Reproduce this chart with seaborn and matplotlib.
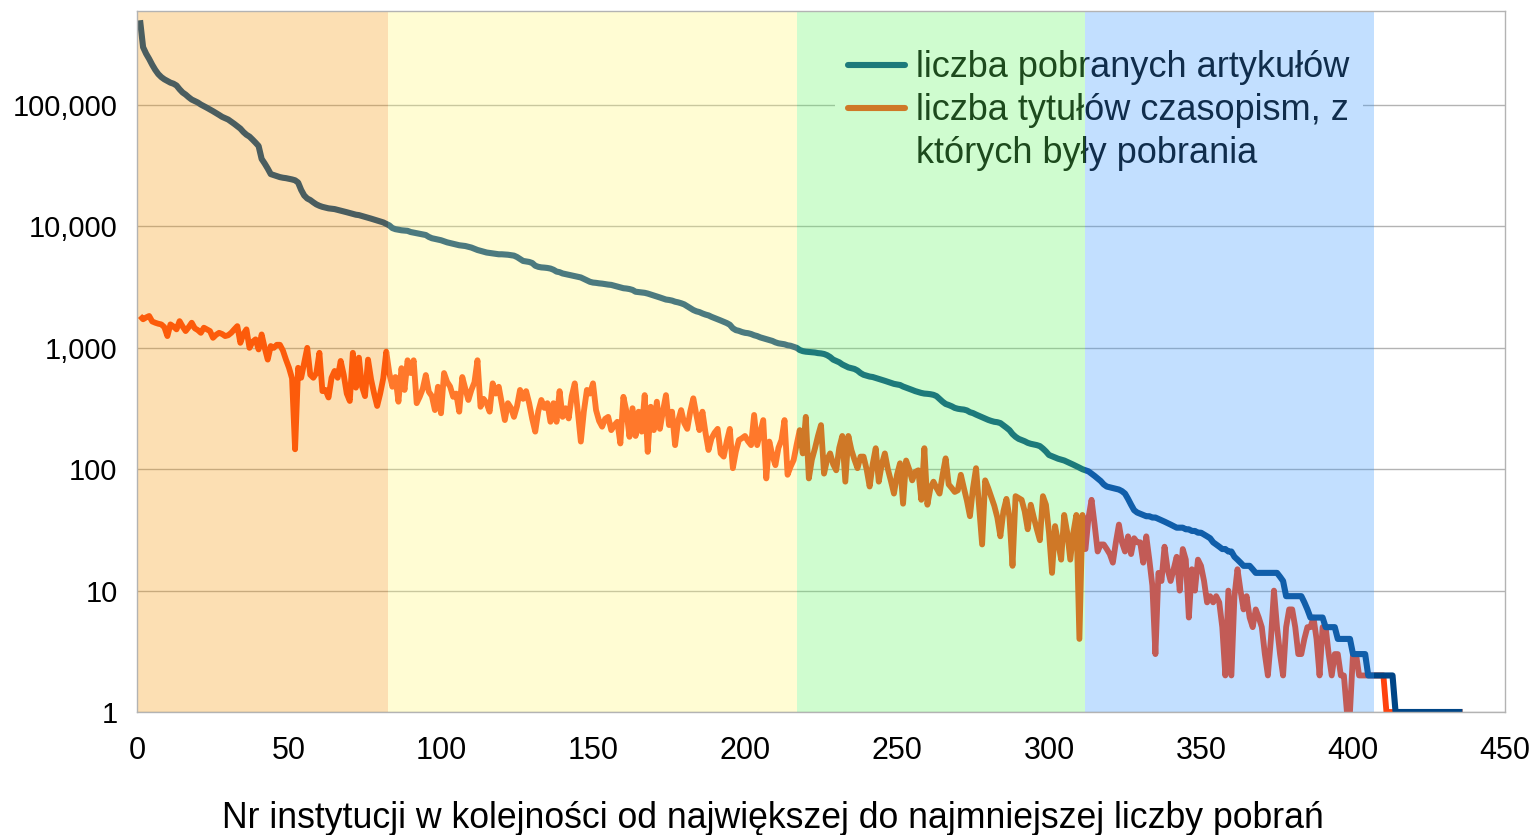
import matplotlib
matplotlib.use("Agg")
import matplotlib.pyplot as plt
from matplotlib.lines import Line2D
from matplotlib.ticker import NullLocator
import seaborn as sns

# liczba pobranych artykułów, instytucje 1..436 (odczyt z wykresu)
downloads = [
    500000, 300000, 265000, 240000, 215000, 195000, 180000, 170000, 163000, 158000,
    153000, 150000, 145000, 135000, 127000, 122000, 116000, 111000, 108000, 105000,
    101000, 98000, 95000, 92000, 89000, 86000, 83000, 80000, 78000, 76000,
    73000, 70000, 67000, 64000, 60000, 57000, 55000, 52000, 49000, 46000,
    36000, 33000, 30000, 27000, 26500, 26000, 25500, 25200, 25000, 24700,
    24400, 24000, 23000, 20000, 18000, 17000, 16500, 15800, 15200, 14800,
    14500, 14300, 14100, 14000, 13900, 13700, 13500, 13300, 13100, 12900,
    12700, 12500, 12400, 12200, 12000, 11800, 11600, 11400, 11200, 11000,
    10800, 10500, 10200, 9700, 9500, 9400, 9300, 9250, 9200, 9000,
    8900, 8800, 8700, 8600, 8500, 8200, 8000, 7900, 7800, 7700,
    7550, 7400, 7300, 7200, 7100, 7000, 6950, 6900, 6800, 6700,
    6550, 6400, 6300, 6200, 6100, 6050, 6000, 5950, 5900, 5900,
    5880, 5850, 5800, 5750, 5600, 5400, 5200, 5150, 5100, 5000,
    4750, 4650, 4600, 4580, 4550, 4500, 4400, 4250, 4200, 4100,
    4050, 4000, 3950, 3900, 3850, 3800, 3700, 3600, 3500, 3450,
    3430, 3400, 3380, 3350, 3320, 3300, 3250, 3200, 3150, 3100,
    3080, 3050, 3000, 2900, 2880, 2860, 2840, 2800, 2750, 2700,
    2650, 2600, 2550, 2500, 2480, 2450, 2400, 2370, 2330, 2280,
    2200, 2120, 2050, 2000, 1970, 1920, 1880, 1850, 1800, 1760,
    1720, 1680, 1640, 1600, 1550, 1450, 1400, 1380, 1350, 1330,
    1320, 1300, 1270, 1250, 1220, 1200, 1180, 1160, 1140, 1110,
    1090, 1080, 1070, 1050, 1040, 1020, 1000, 960, 940, 930,
    925, 920, 915, 905, 900, 890, 870, 840, 800, 780,
    760, 730, 710, 690, 680, 670, 650, 620, 600, 590,
    580, 575, 565, 555, 545, 535, 525, 515, 505, 500,
    494, 480, 470, 460, 450, 440, 432, 425, 420, 418,
    415, 410, 400, 380, 360, 345, 338, 330, 320, 315,
    312, 310, 305, 295, 290, 282, 275, 268, 262, 255,
    250, 246, 244, 240, 230, 220, 210, 195, 185, 178,
    174, 170, 165, 162, 160, 158, 155, 148, 140, 131,
    128, 125, 122, 120, 118, 115, 112, 109, 106, 103,
    100, 98, 96, 92, 88, 84, 80, 75, 72, 71,
    70, 69, 68, 66, 63, 57, 51, 46, 44, 43,
    42, 41, 41, 40, 40, 39, 38, 37, 36, 35,
    34, 33, 33, 33, 32, 32, 31, 31, 30, 30,
    29, 28, 27, 25, 24, 23, 22, 22, 21, 21,
    19, 18, 17, 16, 16, 16, 15, 14, 14, 14,
    14, 14, 14, 14, 14, 13, 12, 9, 9, 9,
    9, 9, 9, 8, 7, 6, 6, 6, 6, 6,
    5, 5, 5, 5, 4, 4, 4, 4, 4, 3,
    3, 3, 3, 3, 2, 2, 2, 2, 2, 2,
    2, 2, 2, 1, 1, 1, 1, 1, 1, 1,
    1, 1, 1, 1, 1, 1, 1, 1, 1, 1,
    1, 1, 1, 1, 1, 1,
]

# liczba tytułów czasopism, z których były pobrania
titles = [
    1830, 1720, 1780, 1830, 1650, 1610, 1580, 1560, 1480, 1250,
    1560, 1500, 1420, 1660, 1500, 1375, 1480, 1610, 1450, 1400,
    1330, 1465, 1420, 1375, 1210, 1280, 1330, 1300, 1250, 1270,
    1330, 1420, 1510, 1100, 1300, 1420, 1000, 1120, 1175, 970,
    1290, 1000, 800, 1035, 1000, 1060, 1060, 950, 800, 685,
    560, 146, 685, 567, 750, 1000, 600, 567, 620, 910,
    440, 450, 390, 567, 645, 567, 780, 600, 420, 365,
    910, 470, 830, 480, 400, 800, 550, 420, 332, 420,
    560, 930, 620, 478, 575, 360, 680, 450, 790, 620,
    790, 350, 395, 460, 597, 435, 400, 307, 478, 289,
    620, 525, 480, 395, 420, 298, 575, 460, 372, 450,
    520, 790, 327, 380, 350, 298, 510, 420, 478, 350,
    254, 350, 320, 270, 330, 450, 380, 440, 350, 260,
    204, 300, 372, 320, 350, 246, 350, 246, 440, 270,
    318, 262, 400, 510, 300, 169, 300, 450, 420, 510,
    307, 250, 224, 260, 270, 210, 230, 246, 163, 395,
    300, 185, 318, 188, 298, 204, 408, 139, 327, 210,
    360, 215, 300, 408, 231, 298, 158, 250, 307, 240,
    215, 300, 384, 280, 210, 298, 200, 144, 180, 200,
    215, 135, 127, 170, 215, 102, 140, 174, 180, 188,
    170, 158, 280, 158, 200, 254, 84, 169, 130, 108,
    150, 174, 254, 90, 105, 119, 160, 210, 135, 270,
    84, 120, 148, 188, 231, 92, 120, 135, 110, 98,
    150, 188, 79, 188, 144, 120, 102, 127, 127, 100,
    72, 110, 149, 79, 110, 135, 100, 80, 63, 90,
    112, 52, 118, 100, 81, 95, 98, 56, 149, 51,
    70, 79, 70, 63, 90, 123, 75, 70, 65, 67,
    90, 70, 55, 41, 70, 102, 50, 24, 81, 70,
    59, 50, 40, 28, 45, 57, 40, 16, 60, 58,
    56, 45, 32, 51, 40, 32, 26, 60, 51, 30,
    14, 34, 25, 18, 42, 30, 18, 30, 42, 4,
    42, 22, 40, 56, 35, 21, 24, 24, 22, 20,
    17, 25, 35, 25, 21, 28, 20, 27, 25, 25,
    17, 28, 18, 11, 3, 14, 12, 23, 15, 12,
    15, 19, 10, 22, 18, 6, 15, 10, 18, 16,
    12, 8, 9, 8, 9, 8, 5, 2, 10, 2,
    9, 15, 10, 7, 9, 6, 5, 7, 6, 5,
    3, 2, 4, 10, 5, 3, 2, 5, 7, 7,
    5, 3, 3, 4, 5, 5, 6, 4, 2, 5,
    5, 3, 2, 3, 3, 2, 2, 1, 1, 3,
    3, 2, 2, 2, 2, 2, 2, 2, 2, 2,
    1, 1, 1, 1, 1, 1, 1, 1, 1, 1,
    1, 1, 1, 1, 1, 1, 1, 1, 1, 1,
    1, 1, 1, 1, 1, 1,
]

institution = list(range(1, len(downloads) + 1))

# granice i kolory pasów w tle
band_edges = [0, 82.5, 217, 312, 407]
band_colors = ["#f89705", "#fff870", "#62f862", "#3798ff"]

y_ticks = [1, 10, 100, 1000, 10000, 100000]
y_tick_labels = ["1", "10", "100", "1,000", "10,000", "100,000"]
x_ticks = [0, 50, 100, 150, 200, 250, 300, 350, 400, 450]

legend_labels = ["liczba pobranych artykułów", "liczba tytułów czasopism, z", "których były pobrania"]
x_title = "Nr instytucji w kolejności od największej do najmniejszej liczby pobrań"

NAVY = "#004586"
ORANGE = "#ff420e"
GRID = "#b3b3b3"

sns.set_theme(style="white")
plt.rcParams["font.family"] = ["Liberation Sans", "DejaVu Sans"]
plt.rcParams["text.color"] = "black"

fig = plt.figure(figsize=(15.37, 8.35), dpi=100)
ax = fig.add_axes([137 / 1537, 123 / 835, 1368 / 1537, 701 / 835])

sns.lineplot(x=institution, y=titles, color=ORANGE, linewidth=4.2, ax=ax,
             solid_joinstyle="round", solid_capstyle="butt")
sns.lineplot(x=institution, y=downloads, color=NAVY, linewidth=4.4, ax=ax,
             solid_joinstyle="round", solid_capstyle="butt")

ax.set_yscale("log")
ax.set_ylim(1, 10 ** 5.775)
ax.set_xlim(0, 450)
ax.set_yticks(y_ticks)
ax.set_yticklabels(y_tick_labels, fontsize=21)
ax.yaxis.set_minor_locator(NullLocator())
ax.set_xticks(x_ticks)
ax.set_xticklabels([str(t) for t in x_ticks], fontsize=22)
ax.tick_params(axis="both", colors=GRID, labelcolor="black", width=1, direction="out")
ax.tick_params(axis="x", length=8, pad=9)
ax.tick_params(axis="y", length=6, pad=8)
ax.set_xlabel(x_title, fontsize=25.7, color="black")
ax.xaxis.set_label_coords((772.5 - 137) / 1368, -0.127)
ax.set_ylabel("")

ax.yaxis.grid(True, color=GRID, linewidth=1)
ax.set_axisbelow(True)
for s in ax.spines.values():
    s.set_visible(True)
    s.set_color(GRID)
    s.set_linewidth(1)
    s.set_zorder(11)

handles = [Line2D([], [], color=NAVY, lw=4.4),
           Line2D([], [], color=ORANGE, lw=4.4),
           Line2D([], [], color="none", lw=4)]
leg = ax.legend(handles, legend_labels, loc="upper left", bbox_to_anchor=(0.51, 0.9625),
                borderaxespad=0, fontsize=26, frameon=True, facecolor="white",
                edgecolor="none", framealpha=1, fancybox=False, handlelength=1.6,
                handletextpad=0.3, labelspacing=0.22, borderpad=0.36)
leg.set_zorder(5)

# pasy kolorów nakładane półprzezroczyście na linie i legendę
for a, b, c in zip(band_edges[:-1], band_edges[1:], band_colors):
    ax.axvspan(a, b, color=c, alpha=0.3, lw=0, zorder=10)

fig.savefig("out.png", dpi=100)
